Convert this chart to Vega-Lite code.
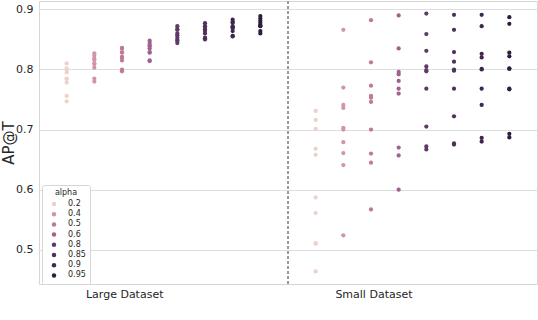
{
  "$schema": "https://vega.github.io/schema/vega-lite/v6.json",
  "width": 498,
  "height": 283,
  "autosize": {"type": "none"},
  "padding": {"left": 39, "top": 1, "right": 1, "bottom": 36},
  "background": "white",
  "config": {
    "font": "DejaVu Sans",
    "view": {"stroke": "#d6d6d6", "strokeWidth": 1},
    "axis": {"labelColor": "#262626", "titleColor": "#262626", "domain": false, "ticks": false, "labelFont": "DejaVu Sans", "titleFont": "DejaVu Sans"}
  },
  "data": {"values": [
    {"dataset": "Large Dataset", "alpha": "0.2", "ap": 0.810},
    {"dataset": "Large Dataset", "alpha": "0.2", "ap": 0.802},
    {"dataset": "Large Dataset", "alpha": "0.2", "ap": 0.799},
    {"dataset": "Large Dataset", "alpha": "0.2", "ap": 0.795},
    {"dataset": "Large Dataset", "alpha": "0.2", "ap": 0.785},
    {"dataset": "Large Dataset", "alpha": "0.2", "ap": 0.784},
    {"dataset": "Large Dataset", "alpha": "0.2", "ap": 0.778},
    {"dataset": "Large Dataset", "alpha": "0.2", "ap": 0.756},
    {"dataset": "Large Dataset", "alpha": "0.2", "ap": 0.747},
    {"dataset": "Large Dataset", "alpha": "0.4", "ap": 0.827},
    {"dataset": "Large Dataset", "alpha": "0.4", "ap": 0.823},
    {"dataset": "Large Dataset", "alpha": "0.4", "ap": 0.818},
    {"dataset": "Large Dataset", "alpha": "0.4", "ap": 0.816},
    {"dataset": "Large Dataset", "alpha": "0.4", "ap": 0.810},
    {"dataset": "Large Dataset", "alpha": "0.4", "ap": 0.809},
    {"dataset": "Large Dataset", "alpha": "0.4", "ap": 0.803},
    {"dataset": "Large Dataset", "alpha": "0.4", "ap": 0.785},
    {"dataset": "Large Dataset", "alpha": "0.4", "ap": 0.780},
    {"dataset": "Large Dataset", "alpha": "0.5", "ap": 0.836},
    {"dataset": "Large Dataset", "alpha": "0.5", "ap": 0.835},
    {"dataset": "Large Dataset", "alpha": "0.5", "ap": 0.829},
    {"dataset": "Large Dataset", "alpha": "0.5", "ap": 0.828},
    {"dataset": "Large Dataset", "alpha": "0.5", "ap": 0.821},
    {"dataset": "Large Dataset", "alpha": "0.5", "ap": 0.820},
    {"dataset": "Large Dataset", "alpha": "0.5", "ap": 0.815},
    {"dataset": "Large Dataset", "alpha": "0.5", "ap": 0.800},
    {"dataset": "Large Dataset", "alpha": "0.5", "ap": 0.797},
    {"dataset": "Large Dataset", "alpha": "0.6", "ap": 0.848},
    {"dataset": "Large Dataset", "alpha": "0.6", "ap": 0.844},
    {"dataset": "Large Dataset", "alpha": "0.6", "ap": 0.840},
    {"dataset": "Large Dataset", "alpha": "0.6", "ap": 0.839},
    {"dataset": "Large Dataset", "alpha": "0.6", "ap": 0.835},
    {"dataset": "Large Dataset", "alpha": "0.6", "ap": 0.829},
    {"dataset": "Large Dataset", "alpha": "0.6", "ap": 0.828},
    {"dataset": "Large Dataset", "alpha": "0.6", "ap": 0.815},
    {"dataset": "Large Dataset", "alpha": "0.6", "ap": 0.814},
    {"dataset": "Large Dataset", "alpha": "0.8", "ap": 0.872},
    {"dataset": "Large Dataset", "alpha": "0.8", "ap": 0.867},
    {"dataset": "Large Dataset", "alpha": "0.8", "ap": 0.866},
    {"dataset": "Large Dataset", "alpha": "0.8", "ap": 0.860},
    {"dataset": "Large Dataset", "alpha": "0.8", "ap": 0.857},
    {"dataset": "Large Dataset", "alpha": "0.8", "ap": 0.853},
    {"dataset": "Large Dataset", "alpha": "0.8", "ap": 0.849},
    {"dataset": "Large Dataset", "alpha": "0.8", "ap": 0.848},
    {"dataset": "Large Dataset", "alpha": "0.8", "ap": 0.844},
    {"dataset": "Large Dataset", "alpha": "0.85", "ap": 0.877},
    {"dataset": "Large Dataset", "alpha": "0.85", "ap": 0.872},
    {"dataset": "Large Dataset", "alpha": "0.85", "ap": 0.871},
    {"dataset": "Large Dataset", "alpha": "0.85", "ap": 0.867},
    {"dataset": "Large Dataset", "alpha": "0.85", "ap": 0.864},
    {"dataset": "Large Dataset", "alpha": "0.85", "ap": 0.860},
    {"dataset": "Large Dataset", "alpha": "0.85", "ap": 0.853},
    {"dataset": "Large Dataset", "alpha": "0.85", "ap": 0.852},
    {"dataset": "Large Dataset", "alpha": "0.85", "ap": 0.850},
    {"dataset": "Large Dataset", "alpha": "0.9", "ap": 0.883},
    {"dataset": "Large Dataset", "alpha": "0.9", "ap": 0.879},
    {"dataset": "Large Dataset", "alpha": "0.9", "ap": 0.878},
    {"dataset": "Large Dataset", "alpha": "0.9", "ap": 0.872},
    {"dataset": "Large Dataset", "alpha": "0.9", "ap": 0.870},
    {"dataset": "Large Dataset", "alpha": "0.9", "ap": 0.869},
    {"dataset": "Large Dataset", "alpha": "0.9", "ap": 0.864},
    {"dataset": "Large Dataset", "alpha": "0.9", "ap": 0.856},
    {"dataset": "Large Dataset", "alpha": "0.9", "ap": 0.855},
    {"dataset": "Large Dataset", "alpha": "0.95", "ap": 0.889},
    {"dataset": "Large Dataset", "alpha": "0.95", "ap": 0.885},
    {"dataset": "Large Dataset", "alpha": "0.95", "ap": 0.881},
    {"dataset": "Large Dataset", "alpha": "0.95", "ap": 0.878},
    {"dataset": "Large Dataset", "alpha": "0.95", "ap": 0.874},
    {"dataset": "Large Dataset", "alpha": "0.95", "ap": 0.873},
    {"dataset": "Large Dataset", "alpha": "0.95", "ap": 0.872},
    {"dataset": "Large Dataset", "alpha": "0.95", "ap": 0.864},
    {"dataset": "Large Dataset", "alpha": "0.95", "ap": 0.860},
    {"dataset": "Small Dataset", "alpha": "0.2", "ap": 0.731},
    {"dataset": "Small Dataset", "alpha": "0.2", "ap": 0.716},
    {"dataset": "Small Dataset", "alpha": "0.2", "ap": 0.701},
    {"dataset": "Small Dataset", "alpha": "0.2", "ap": 0.668},
    {"dataset": "Small Dataset", "alpha": "0.2", "ap": 0.658},
    {"dataset": "Small Dataset", "alpha": "0.2", "ap": 0.587},
    {"dataset": "Small Dataset", "alpha": "0.2", "ap": 0.561},
    {"dataset": "Small Dataset", "alpha": "0.2", "ap": 0.511},
    {"dataset": "Small Dataset", "alpha": "0.2", "ap": 0.510},
    {"dataset": "Small Dataset", "alpha": "0.2", "ap": 0.464},
    {"dataset": "Small Dataset", "alpha": "0.4", "ap": 0.866},
    {"dataset": "Small Dataset", "alpha": "0.4", "ap": 0.770},
    {"dataset": "Small Dataset", "alpha": "0.4", "ap": 0.741},
    {"dataset": "Small Dataset", "alpha": "0.4", "ap": 0.736},
    {"dataset": "Small Dataset", "alpha": "0.4", "ap": 0.703},
    {"dataset": "Small Dataset", "alpha": "0.4", "ap": 0.700},
    {"dataset": "Small Dataset", "alpha": "0.4", "ap": 0.679},
    {"dataset": "Small Dataset", "alpha": "0.4", "ap": 0.661},
    {"dataset": "Small Dataset", "alpha": "0.4", "ap": 0.641},
    {"dataset": "Small Dataset", "alpha": "0.4", "ap": 0.524},
    {"dataset": "Small Dataset", "alpha": "0.5", "ap": 0.882},
    {"dataset": "Small Dataset", "alpha": "0.5", "ap": 0.812},
    {"dataset": "Small Dataset", "alpha": "0.5", "ap": 0.773},
    {"dataset": "Small Dataset", "alpha": "0.5", "ap": 0.756},
    {"dataset": "Small Dataset", "alpha": "0.5", "ap": 0.753},
    {"dataset": "Small Dataset", "alpha": "0.5", "ap": 0.746},
    {"dataset": "Small Dataset", "alpha": "0.5", "ap": 0.700},
    {"dataset": "Small Dataset", "alpha": "0.5", "ap": 0.660},
    {"dataset": "Small Dataset", "alpha": "0.5", "ap": 0.645},
    {"dataset": "Small Dataset", "alpha": "0.5", "ap": 0.567},
    {"dataset": "Small Dataset", "alpha": "0.6", "ap": 0.890},
    {"dataset": "Small Dataset", "alpha": "0.6", "ap": 0.835},
    {"dataset": "Small Dataset", "alpha": "0.6", "ap": 0.796},
    {"dataset": "Small Dataset", "alpha": "0.6", "ap": 0.792},
    {"dataset": "Small Dataset", "alpha": "0.6", "ap": 0.781},
    {"dataset": "Small Dataset", "alpha": "0.6", "ap": 0.768},
    {"dataset": "Small Dataset", "alpha": "0.6", "ap": 0.760},
    {"dataset": "Small Dataset", "alpha": "0.6", "ap": 0.670},
    {"dataset": "Small Dataset", "alpha": "0.6", "ap": 0.657},
    {"dataset": "Small Dataset", "alpha": "0.6", "ap": 0.600},
    {"dataset": "Small Dataset", "alpha": "0.8", "ap": 0.893},
    {"dataset": "Small Dataset", "alpha": "0.8", "ap": 0.859},
    {"dataset": "Small Dataset", "alpha": "0.8", "ap": 0.831},
    {"dataset": "Small Dataset", "alpha": "0.8", "ap": 0.805},
    {"dataset": "Small Dataset", "alpha": "0.8", "ap": 0.799},
    {"dataset": "Small Dataset", "alpha": "0.8", "ap": 0.797},
    {"dataset": "Small Dataset", "alpha": "0.8", "ap": 0.768},
    {"dataset": "Small Dataset", "alpha": "0.8", "ap": 0.705},
    {"dataset": "Small Dataset", "alpha": "0.8", "ap": 0.672},
    {"dataset": "Small Dataset", "alpha": "0.8", "ap": 0.667},
    {"dataset": "Small Dataset", "alpha": "0.85", "ap": 0.891},
    {"dataset": "Small Dataset", "alpha": "0.85", "ap": 0.866},
    {"dataset": "Small Dataset", "alpha": "0.85", "ap": 0.829},
    {"dataset": "Small Dataset", "alpha": "0.85", "ap": 0.813},
    {"dataset": "Small Dataset", "alpha": "0.85", "ap": 0.800},
    {"dataset": "Small Dataset", "alpha": "0.85", "ap": 0.798},
    {"dataset": "Small Dataset", "alpha": "0.85", "ap": 0.768},
    {"dataset": "Small Dataset", "alpha": "0.85", "ap": 0.722},
    {"dataset": "Small Dataset", "alpha": "0.85", "ap": 0.677},
    {"dataset": "Small Dataset", "alpha": "0.85", "ap": 0.675},
    {"dataset": "Small Dataset", "alpha": "0.9", "ap": 0.891},
    {"dataset": "Small Dataset", "alpha": "0.9", "ap": 0.872},
    {"dataset": "Small Dataset", "alpha": "0.9", "ap": 0.826},
    {"dataset": "Small Dataset", "alpha": "0.9", "ap": 0.820},
    {"dataset": "Small Dataset", "alpha": "0.9", "ap": 0.801},
    {"dataset": "Small Dataset", "alpha": "0.9", "ap": 0.800},
    {"dataset": "Small Dataset", "alpha": "0.9", "ap": 0.768},
    {"dataset": "Small Dataset", "alpha": "0.9", "ap": 0.741},
    {"dataset": "Small Dataset", "alpha": "0.9", "ap": 0.686},
    {"dataset": "Small Dataset", "alpha": "0.9", "ap": 0.680},
    {"dataset": "Small Dataset", "alpha": "0.95", "ap": 0.887},
    {"dataset": "Small Dataset", "alpha": "0.95", "ap": 0.876},
    {"dataset": "Small Dataset", "alpha": "0.95", "ap": 0.828},
    {"dataset": "Small Dataset", "alpha": "0.95", "ap": 0.822},
    {"dataset": "Small Dataset", "alpha": "0.95", "ap": 0.802},
    {"dataset": "Small Dataset", "alpha": "0.95", "ap": 0.801},
    {"dataset": "Small Dataset", "alpha": "0.95", "ap": 0.768},
    {"dataset": "Small Dataset", "alpha": "0.95", "ap": 0.767},
    {"dataset": "Small Dataset", "alpha": "0.95", "ap": 0.693},
    {"dataset": "Small Dataset", "alpha": "0.95", "ap": 0.687}
  ]},
  "layer": [
    {
      "mark": {"type": "rule", "strokeDash": [3, 2], "color": "#9a9a9a", "strokeWidth": 1},
      "encoding": {
        "x": {"datum": "Small Dataset", "type": "nominal", "bandPosition": 0}
      }
    },
    {
      "mark": {"type": "circle", "size": 18, "opacity": 1},
      "encoding": {
        "x": {
          "field": "dataset", "type": "nominal",
          "scale": {"domain": ["Large Dataset", "Small Dataset"], "paddingInner": 0, "paddingOuter": 0},
          "axis": {"title": null, "labelAngle": 0, "labelFontSize": 11, "labelPadding": 10, "grid": false}
        },
        "xOffset": {
          "field": "alpha", "type": "nominal",
          "scale": {"domain": ["0.2", "0.4", "0.5", "0.6", "0.8", "0.85", "0.9", "0.95"], "paddingInner": 0, "paddingOuter": 1.02}
        },
        "y": {
          "field": "ap", "type": "quantitative",
          "scale": {"domain": [0.443, 0.914], "nice": false, "zero": false},
          "axis": {
            "title": "AP@T", "titleFontSize": 15, "titleFontWeight": "normal", "titlePadding": -1,
            "values": [0.5, 0.6, 0.7, 0.8, 0.9], "format": ".1f",
            "labelFontSize": 11, "labelPadding": 6,
            "grid": true, "gridColor": "#dedede", "gridWidth": 1.2
          }
        },
        "color": {
          "field": "alpha", "type": "nominal",
          "scale": {
            "domain": ["0.2", "0.4", "0.5", "0.6", "0.8", "0.85", "0.9", "0.95"],
            "range": ["#edd1cb", "#d295a5", "#bd7a98", "#a2618c", "#613969", "#4f305c", "#3e274e", "#2d1e3e"]
          },
          "legend": {
            "title": "alpha", "orient": "none", "legendX": 3, "legendY": 184,
            "titleFontSize": 8, "titleFontWeight": "normal", "titleColor": "#262626", "titleAnchor": "middle",
            "labelFontSize": 8, "labelColor": "#262626",
            "symbolSize": 20, "symbolType": "circle", "rowPadding": 2.2, "symbolOffset": 4,
            "padding": 4, "strokeColor": "#d6d6d6", "fillColor": "white", "cornerRadius": 2,
            "labelOffset": 10, "titlePadding": 3, "labelLimit": 40
          }
        }
      }
    }
  ]
}
